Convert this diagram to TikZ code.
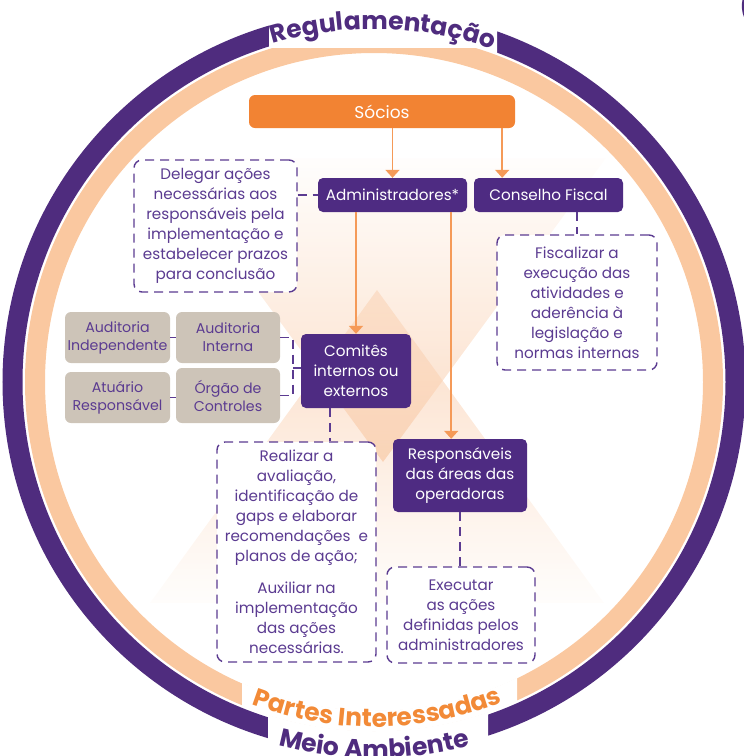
\documentclass[tikz,border=0pt]{standalone}
\usepackage{fontspec}
\setmainfont{Poppins}
\usetikzlibrary{arrows.meta,calc,decorations.text}

\definecolor{ringpurple}{HTML}{4F2C7E}
\definecolor{ringpeach}{HTML}{FAC8A0}
\definecolor{boxpurple}{HTML}{4E2B82}
\definecolor{txtpurple}{HTML}{5B3B91}
\definecolor{socioorange}{HTML}{F28333}
\definecolor{arroworange}{HTML}{F59A58}
\definecolor{boxgray}{HTML}{CDC4B8}
\definecolor{titleorange}{HTML}{F28A37}
\definecolor{xpeach}{HTML}{F8BF94}

\newcommand{\bodyfont}{\fontsize{15.2}{20}\selectfont}
\newcommand{\grayfont}{\fontsize{14.2}{18}\selectfont}
\newcommand{\titlefont}{\fontsize{25}{28}\selectfont\bfseries}

\tikzset{
  socbox/.style={fill=socioorange, text=white, rounded corners=6pt, inner sep=0pt, font=\fontsize{17}{20}\selectfont},
  rolebox/.style={fill=boxpurple, text=white, rounded corners=5pt, align=center, inner sep=0pt, font=\bodyfont},
  sidebox/.style={fill=boxgray, text=txtpurple, rounded corners=6pt, align=center, inner sep=0pt, font=\grayfont},
  notebox/.style={draw=txtpurple, fill=white, line width=1.4pt, dash pattern=on 9pt off 6pt, rounded corners=8pt, text=txtpurple, align=center, inner sep=0pt, font=\bodyfont},
  feed/.style={draw=arroworange, line width=1.8pt, -{Triangle[width=14pt,length=8pt]}},
  dashlink/.style={draw=txtpurple, line width=1.4pt, dash pattern=on 9pt off 6pt},
}

\begin{document}
\begin{tikzpicture}[x=1pt,y=1pt]
\useasboundingbox (0,0) rectangle (744,-756);
\coordinate (C) at (374,-382);
%hourglass
\shade[top color=xpeach, bottom color=xpeach!6, fill opacity=0.55] (377,-290) -- (150,-603) -- (604,-603) -- cycle;
\shade[top color=xpeach!4, bottom color=xpeach, fill opacity=0.55] (160,-158) -- (606,-158) -- (383,-462) -- cycle;
%rings
\draw[ringpeach, line width=20pt] (C) circle[radius=339pt];
\draw[ringpurple, line width=20pt] (C) circle[radius=361.5pt];
%gaps for the titles
\begin{scope}
\clip (269,0) rectangle (497,-70);
\draw[white, line width=23pt] (C) circle[radius=361.5pt];
\fill[white] (269,0) rectangle (497,-48);
\end{scope}
\begin{scope}
\clip (242,-640) rectangle (517,-760);
\draw[white, line width=21pt] (C) circle[radius=339pt];
\end{scope}
\begin{scope}
\clip (268,-640) rectangle (488,-760);
\draw[white, line width=23pt] (C) circle[radius=361.5pt];
\end{scope}
\fill[ringpurple] (744,0) -- (744,-17) .. controls (741.5,-12) and (741.5,-4) .. (742.5,0) -- cycle;
%titles
\path[decorate, decoration={text along path, text align=center, text={|\titlefont\color{ringpurple}|Regulamentação}}] (C) ++(118.5:353pt) arc[start angle=118.5, end angle=58.5, radius=353pt];
\path[decorate, decoration={text along path, text align=center, text={|\titlefont\color{titleorange}|Partes Interessadas}}] (C) ++(240.6:345pt) arc[start angle=240.6, end angle=300.6, radius=345pt];
\path[decorate, decoration={text along path, text align=center, text={|\titlefont\color{ringpurple}|Meio Ambiente}}] (C) ++(240:376pt) arc[start angle=240, end angle=300, radius=376pt];
%boxes
\node[socbox, minimum width=266pt, minimum height=33pt] (socios) at (382,-111.5) {Sócios};
\node[rolebox, minimum width=149pt, minimum height=34pt] (admin) at (392.5,-195) {Administradores*};
\node[rolebox, minimum width=149pt, minimum height=34pt] (conselho) at (548.5,-195) {Conselho Fiscal};
\node[notebox, minimum width=163pt, minimum height=132pt] (delegar) at (215.5,-226) {Delegar ações\\necessárias aos\\responsáveis pela\\implementação e\\estabelecer prazos\\para conclusão};
\node[notebox, minimum width=160pt, minimum height=135pt] (fiscal) at (577,-302.5) {Fiscalizar a\\execução das\\atividades e\\aderência à\\legislação e\\normas internas};
\node[rolebox, minimum width=110pt, minimum height=74pt] (comites) at (356,-371) {Comitês\\internos ou\\externos};
\node[sidebox, minimum width=105pt, minimum height=51pt] (audind) at (117.5,-337.5) {Auditoria\\Independente};
\node[sidebox, minimum width=104pt, minimum height=51pt] (audint) at (228,-337.5) {Auditoria\\Interna};
\node[sidebox, minimum width=105pt, minimum height=51pt] (atuario) at (117.5,-397.5) {Atuário\\Responsável};
\node[sidebox, minimum width=104pt, minimum height=55pt] (orgao) at (228,-395.5) {Órgão de\\Controles};
\node[notebox, minimum width=159pt, minimum height=220pt] (realizar) at (296.5,-552) {Realizar a\\avaliação,\\identificação de\\gaps e elaborar\\recomendações\ \ e\\planos de ação;\\[12pt]Auxiliar na\\implementação\\das ações\\necessárias.};
\node[rolebox, minimum width=134pt, minimum height=73pt] (respons) at (460,-475.5) {Responsáveis\\das áreas das\\operadoras};
\node[notebox, minimum width=148pt, minimum height=96pt] (executar) at (461,-615) {Executar\\as ações\\definidas pelos\\administradores};
%orange arrows
\coordinate (sfork) at ([xshift=-13pt]socios.south east);
\coordinate (afork) at ([xshift=-16pt]admin.south east);
\draw[feed] (socios.south -| admin) -- (admin.north);
\draw[feed] (sfork) -- (sfork |- conselho.north);
\draw[feed] (admin.south -| comites) -- (comites.north);
\draw[feed] (afork) -- (afork |- respons.north);
%dashed links
\draw[dashlink] (delegar.east |- admin.west) -- (admin.west);
\draw[dashlink] (conselho.south -| fiscal) -- (fiscal.north);
\coordinate (cdrop) at ([xshift=-26pt]comites.south);
\draw[dashlink] (cdrop) -- (cdrop |- realizar.north);
\draw[dashlink] (respons.south) -- (respons.south |- executar.north);
%side boxes
\draw[txtpurple, line width=1.4pt] (audind.east) -- (audint.west);
\draw[txtpurple, line width=1.4pt] (atuario.east) -- (atuario.east -| orgao.west);
\coordinate (brk) at (293,-368);
\draw[dashlink] (audint.east) -| (brk) |- (orgao.east);
\draw[dashlink] (brk) -- (brk -| comites.west);
\end{tikzpicture}
\end{document}
